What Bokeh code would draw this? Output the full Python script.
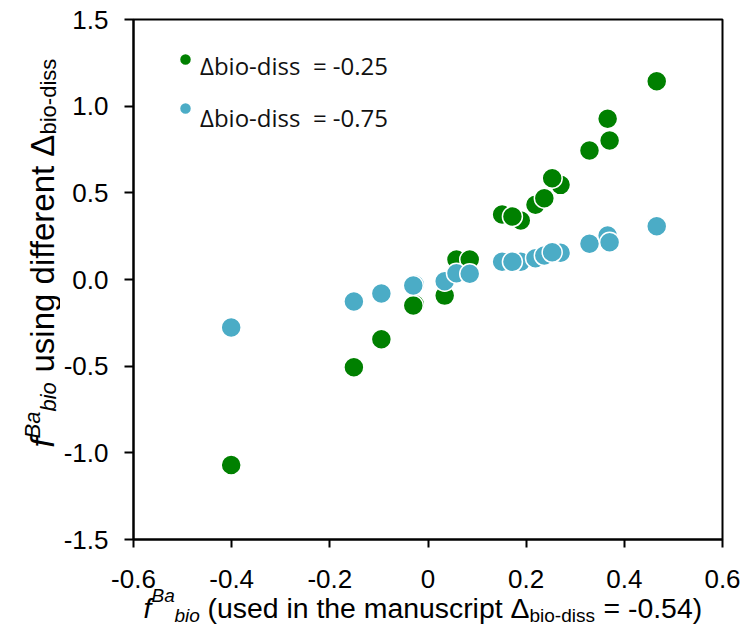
import math
from bokeh.plotting import figure
from bokeh.layouts import row, column
from bokeh.models import FixedTicker, Legend, LegendItem, Label, Range1d
from bokeh.embed import file_html
from bokeh.resources import INLINE

# ---- data ----
x_manuscript = [-0.401, -0.151, -0.095, -0.027, -0.030, 0.034, 0.058, 0.085,
                0.151, 0.189, 0.172, 0.219, 0.237, 0.270, 0.253, 0.329,
                0.366, 0.370, 0.466]
y_delta_minus025 = [-1.070, -0.506, -0.345, -0.143, -0.150, -0.093, 0.115, 0.115,
                    0.375, 0.340, 0.363, 0.431, 0.469, 0.546, 0.584, 0.744,
                    0.927, 0.802, 1.144]
y_delta_minus075 = [-0.277, -0.127, -0.081, -0.029, -0.035, -0.010, 0.036, 0.033,
                    0.102, 0.102, 0.102, 0.123, 0.138, 0.154, 0.157, 0.206,
                    0.254, 0.215, 0.307]
series_labels = ["Δbio-diss  = -0.25", "Δbio-diss  = -0.75"]
series_colors = ["#008000", "#4BACC6"]
x_ticks = [-0.6, -0.4, -0.2, 0, 0.2, 0.4, 0.6]
x_tick_labels = ["-0.6", "-0.4", "-0.2", "0", "0.2", "0.4", "0.6"]
y_ticks = [-1.5, -1.0, -0.5, 0, 0.5, 1.0, 1.5]
y_tick_labels = ["-1.5", "-1.0", "-0.5", "0.0", "0.5", "1.0", "1.5"]

FONT = "Liberation Sans"
YT_W = 60      # width of the strip holding the y-axis title
XT_H = 48      # height of the strip holding the x-axis title (overlaps main)

# ---------------- main plot ----------------
p = figure(width=752 - YT_W, height=626,
           x_range=Range1d(-0.6, 0.6), y_range=Range1d(-1.5, 1.5),
           output_backend="svg", toolbar_location=None,
           min_border_left=131 - YT_W, min_border_right=30,
           min_border_top=19, min_border_bottom=87)

p.xgrid.visible = False
p.ygrid.visible = False
p.outline_line_color = "black"
p.outline_line_width = 2
p.outline_line_alpha = 1.0

p.xaxis.ticker = FixedTicker(ticks=x_ticks)
p.yaxis.ticker = FixedTicker(ticks=y_ticks)
p.xaxis.major_label_overrides = dict(zip(x_ticks, x_tick_labels))
p.yaxis.major_label_overrides = dict(zip(y_ticks, y_tick_labels))

for ax in (p.xaxis, p.yaxis):
    ax.axis_line_color = "black"
    ax.axis_line_width = 2
    ax.major_tick_line_color = "black"
    ax.major_tick_line_width = 2
    ax.minor_tick_line_color = None
    ax.major_label_text_font = FONT
    ax.major_label_text_font_size = "26px"
    ax.major_label_text_color = "black"

p.xaxis.major_tick_in = 0
p.xaxis.major_tick_out = 8
p.xaxis.major_label_standoff = 22
p.yaxis.major_tick_in = 0
p.yaxis.major_tick_out = 9
p.yaxis.major_label_standoff = 16

renderers = []
for ys, col in zip([y_delta_minus025, y_delta_minus075], series_colors):
    r = p.scatter(x_manuscript, ys, size=20, fill_color=col,
                  line_color="white", line_width=1.5)
    renderers.append(r)

common = dict(orientation="vertical", border_line_color=None,
              background_fill_alpha=0, padding=0, margin=0, spacing=19,
              glyph_width=30, glyph_height=30, label_height=30,
              label_standoff=0, label_text_font="Open Sans",
              label_text_font_size="24px", label_text_color="#111111",
              label_text_baseline="middle")

legend_marks = Legend(items=[LegendItem(label=" ", renderers=[r])
                             for r in renderers],
                      location=(37, 416), **common)
p.add_layout(legend_marks)

ghosts = [p.scatter([], [], size=1, fill_alpha=0, line_alpha=0)
          for _ in series_labels]
legend_text = Legend(items=[LegendItem(label=lab, renderers=[g])
                            for lab, g in zip(series_labels, ghosts)],
                     location=(37, 405), **common)
p.add_layout(legend_text)


def title_strip(w, h, **kw):
    f = figure(width=w, height=h, output_backend="svg", toolbar_location=None,
               x_axis_type=None, y_axis_type=None,
               x_range=Range1d(0, 1), y_range=Range1d(0, 1),
               min_border=0, min_border_left=0, min_border_right=0,
               min_border_top=0, min_border_bottom=0, **kw)
    f.outline_line_color = None
    f.background_fill_color = None
    f.border_fill_color = None
    f.xgrid.visible = False
    f.ygrid.visible = False
    return f


# ---------------- y-axis title strip ----------------
yt = title_strip(YT_W, 626)
y_title = [("f", 42, 447, "33px", "italic"),
           ("Ba", 32, 438, "22px", "italic"),
           ("bio", 48, 411, "22px", "italic"),
           ("using different Δ", 42, 372, "33px", "normal"),
           ("bio-diss", 48, 134, "22px", "normal")]
for t, x, y, fs, st in y_title:
    yt.add_layout(Label(text=t, x=x, y=y, x_units="canvas", y_units="canvas",
                        angle=math.pi / 2,
                        text_font=FONT, text_font_size=fs, text_font_style=st,
                        text_color="black", text_baseline="alphabetic",
                        text_align="left"))

# ---------------- x-axis title strip (overlaps bottom of main plot) --------
xt = title_strip(752 - YT_W, XT_H, margin=(-XT_H, 0, 0, 0))
x0, y0 = YT_W, 626 - XT_H
x_title = [("f", 143, 607, "28.4px", "italic"),
           ("Ba", 151, 595, "19px", "italic"),
           ("bio", 174, 615, "19px", "italic"),
           ("(used in the manuscript Δ", 207, 607, "28.4px", "normal"),
           ("bio-diss", 529, 615, "19px", "normal"),
           ("= -0.54)", 603, 607, "28.4px", "normal")]
for t, x, y, fs, st in x_title:
    xt.add_layout(Label(text=t, x=x - x0, y=y - y0, x_units="canvas", y_units="canvas",
                        text_font=FONT, text_font_size=fs, text_font_style=st,
                        text_color="black", text_baseline="alphabetic",
                        text_align="left"))

layout = row(yt, column(p, xt, spacing=0), spacing=0)
open("out.html", "w").write(file_html(layout, INLINE))
